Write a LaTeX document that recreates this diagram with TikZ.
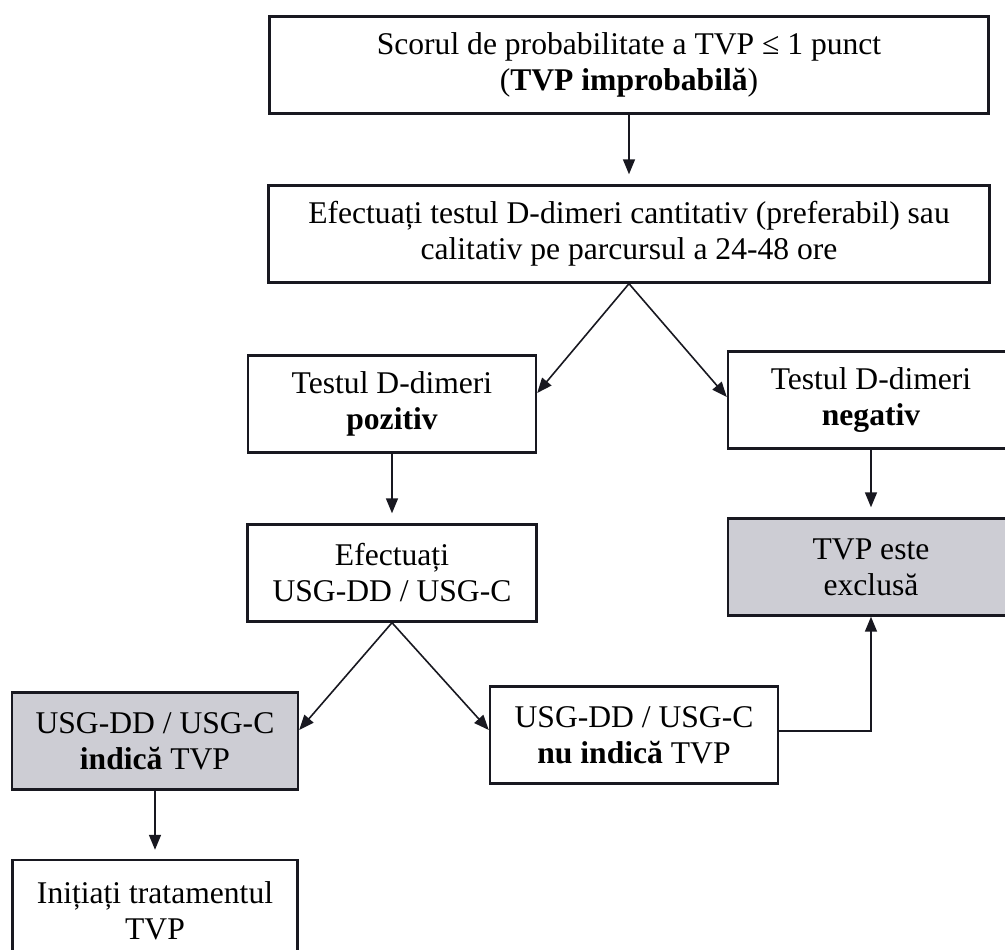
\documentclass[tikz,border=0pt]{standalone}
\usepackage{fontspec}
\setmainfont{Liberation Serif}
\usetikzlibrary{arrows.meta}
\definecolor{boxgray}{RGB}{205,205,212}
\definecolor{ink}{RGB}{24,24,32}
\tikzset{
  box/.style={draw=ink, line width=2.4pt, fill=white, align=center, inner sep=0pt,
    minimum height=97pt, font=\fontsize{31.6}{36}\selectfont},
  graybox/.style={box, fill=boxgray},
  arr/.style={draw=ink, line width=1.6pt, -{Triangle[length=15pt,width=12pt]}},
}
\begin{document}
\begin{tikzpicture}[x=1pt,y=-1pt]
\useasboundingbox (0,0) rectangle (1005,950);
\clip (0,0) rectangle (1005,950);
\node[box, minimum width=719pt] (b1) at (629,65) {Scorul de probabilitate a TVP ≤ 1 punct\\(\textbf{TVP improbabilă})};
\node[box, minimum width=721pt] (b2) at (629,234) {Efectuați testul D-dimeri cantitativ (preferabil) sau\\calitativ pe parcursul a 24-48 ore};
\node[box, minimum width=288pt] (b3) at (392,404) {Testul D-dimeri\\\textbf{pozitiv}};
\node[box, minimum width=286pt] (b4) at (871,400) {Testul D-dimeri\\\textbf{negativ}};
\node[box, minimum width=289pt] (b5) at (392,573) {Efectuați\\USG-DD / USG-C};
\node[graybox, minimum width=286pt] (b6) at (871,567) {TVP este\\exclusă};
\node[graybox, minimum width=286pt] (b7) at (155,741) {USG-DD / USG-C\\\textbf{indică} TVP};
\node[box, minimum width=288pt] (b8) at (634,735) {USG-DD / USG-C\\\textbf{nu indică} TVP};
\node[box, minimum width=285pt, minimum height=102pt] (b9) at (155,911) {Inițiați tratamentul\\TVP};

\draw[arr, shorten >=10pt] (b1.south) -- (b2.north);
\draw[arr] (b2.south) -- ([yshift=11pt]b3.east);
\draw[arr] (b2.south) -- ([yshift=3pt]b4.west);
\draw[arr, shorten >=10pt] (b3.south) -- (b5.north);
\draw[arr, shorten >=10pt] (b4.south) -- (b6.north);
\draw[arr] (b5.south) -- ([yshift=11pt]b7.east);
\draw[arr] (b5.south) -- ([yshift=5pt]b8.west);
\draw[arr, shorten >=9pt] (b7.south) -- (b9.north);
\draw[arr] ([yshift=4pt]b8.east) -| (b6.south);
\end{tikzpicture}
\end{document}
